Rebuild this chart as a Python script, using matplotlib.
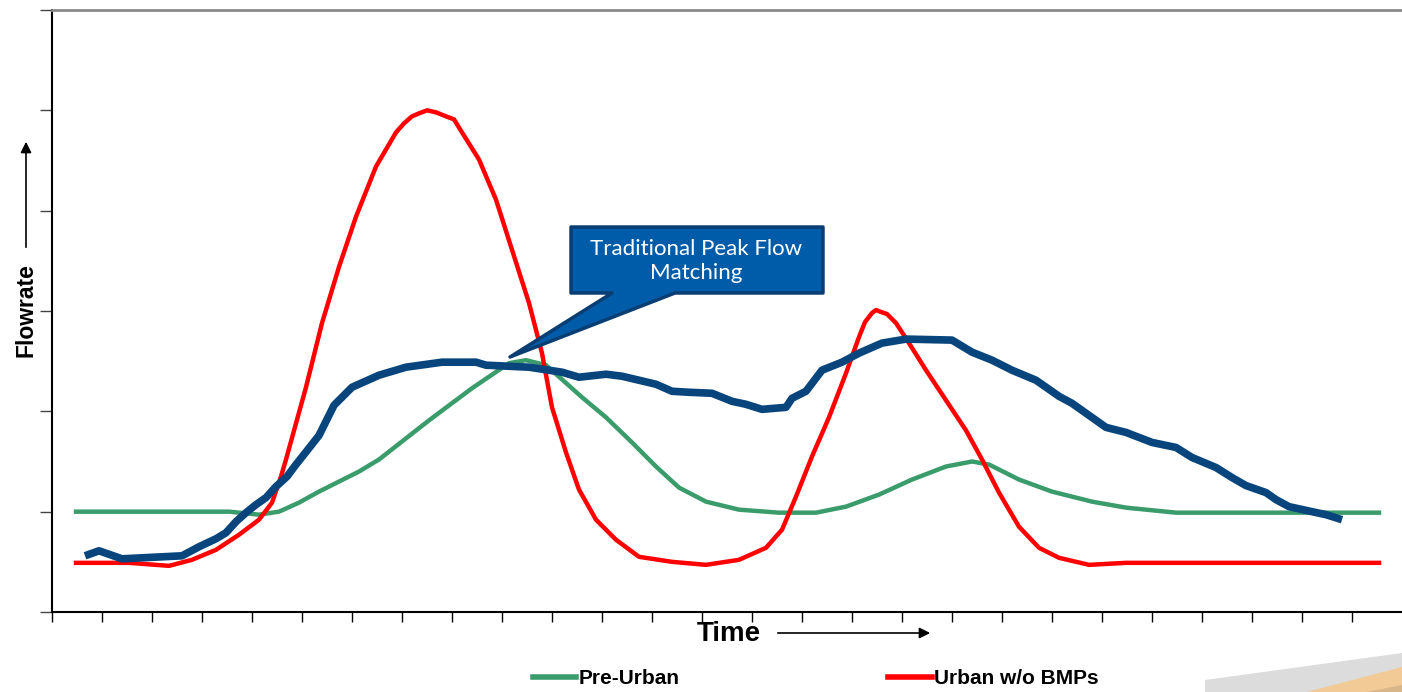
import numpy as np
import matplotlib as mpl
mpl.use('Agg')
import matplotlib.pyplot as plt
from matplotlib.patches import Polygon

# time axis: one unit per minor tick, flow axis: one unit per gridline tick
preUrbanT = [0.48, 3.54, 4.14, 4.54, 4.94, 5.34, 5.74, 6.14, 6.54, 7.54, 8.40, 9.14, 9.48, 9.88,
             10.60, 11.08, 11.60, 12.08, 12.54, 13.08, 13.74, 14.54, 15.28, 15.88, 16.54, 17.20,
             17.88, 18.40, 18.74, 19.34, 20.00, 20.80, 21.48, 22.48, 26.54]
preUrbanQ = [1.00, 1.00, 0.97, 1.00, 1.09, 1.20, 1.30, 1.40, 1.52, 1.91, 2.23, 2.48, 2.51, 2.46,
             2.14, 1.94, 1.69, 1.45, 1.24, 1.10, 1.02, 0.99, 0.99, 1.05, 1.17, 1.32,
             1.45, 1.50, 1.47, 1.32, 1.20, 1.10, 1.04, 0.99, 0.99]

urbanT = [0.48, 1.54, 2.34, 2.80, 3.28, 3.74, 4.14, 4.40, 4.58, 4.68,
          5.08, 5.40, 5.74, 6.08, 6.48, 6.88, 7.04, 7.20, 7.34, 7.50, 7.68, 7.88, 8.04, 8.20,
          8.54, 8.88, 9.20, 9.54, 9.80, 10.00, 10.28, 10.54, 10.88, 11.28,
          11.74, 12.40, 13.08, 13.74, 14.28, 14.60, 14.88, 15.20, 15.54, 15.88,
          16.14, 16.26, 16.40, 16.48, 16.58, 16.70, 16.88, 17.14, 17.48, 17.88, 18.28, 18.60, 18.94,
          19.34, 19.74, 20.14, 20.74, 21.48, 26.54]
urbanQ = [0.49, 0.49, 0.46, 0.52, 0.62, 0.77, 0.92, 1.09, 1.35, 1.52,
          2.24, 2.88, 3.44, 3.94, 4.44, 4.78, 4.87, 4.94, 4.97, 5.00, 4.98, 4.94, 4.91, 4.78,
          4.51, 4.11, 3.61, 3.08, 2.58, 2.04, 1.59, 1.22, 0.92, 0.72,
          0.55, 0.50, 0.47, 0.52, 0.64, 0.82, 1.15, 1.55, 1.94, 2.38,
          2.74, 2.89, 2.98, 3.01, 2.99, 2.97, 2.88, 2.68, 2.41, 2.11, 1.81, 1.52, 1.19,
          0.85, 0.64, 0.54, 0.47, 0.49, 0.49]

peakMatchT = [0.66, 0.94, 1.40, 2.60, 2.94, 3.28, 3.48, 3.68, 3.88, 4.08,
              4.28, 4.48, 4.70, 4.88, 5.04, 5.34, 5.64, 5.84, 6.00, 6.54,
              7.08, 7.80, 8.48, 8.68, 9.54, 10.20, 10.54, 11.08, 11.40, 11.74,
              12.08, 12.40, 12.74, 13.20, 13.60, 13.88, 14.20, 14.68, 14.80, 15.08,
              15.40, 15.80, 16.14, 16.60, 17.08, 18.00, 18.40, 18.80, 19.20, 19.68,
              20.14, 20.40, 20.74, 21.08, 21.48, 22.00, 22.48, 22.80, 23.28, 23.60,
              23.88, 24.28, 24.48, 24.74, 25.20, 25.48, 25.80]
peakMatchQ = [0.56, 0.61, 0.53, 0.56, 0.65, 0.73, 0.79, 0.90, 0.99, 1.07,
              1.14, 1.25, 1.35, 1.47, 1.57, 1.76, 2.06, 2.16, 2.24, 2.36,
              2.44, 2.49, 2.49, 2.46, 2.44, 2.39, 2.34, 2.37, 2.35, 2.31,
              2.27, 2.20, 2.19, 2.18, 2.10, 2.07, 2.02, 2.04, 2.13, 2.20,
              2.41, 2.49, 2.58, 2.68, 2.72, 2.71, 2.59, 2.51, 2.41, 2.31,
              2.15, 2.08, 1.96, 1.84, 1.79, 1.69, 1.64, 1.54, 1.44, 1.34,
              1.26, 1.19, 1.12, 1.05, 1.00, 0.97, 0.92]

W, H = 1402, 692

def px(x, y):
    # pixel position (from top-left) -> figure fraction
    return (x / W, 1 - y / H)

fig = plt.figure(figsize=(W / 100, H / 100), dpi=100)
ax = fig.add_axes([52 / W, 80 / H, 1350 / W, 602 / H])

ax.plot(preUrbanT, preUrbanQ, color='#3A9B6B', lw=3.2, solid_joinstyle='round', label='Pre-Urban')
ax.plot(urbanT, urbanQ, color='#FF0000', lw=3.2, solid_joinstyle='round', label='Urban w/o BMPs')
ax.plot(peakMatchT, peakMatchQ, color='#07457C', lw=5.5, solid_capstyle='butt', solid_joinstyle='round')

ax.set_xlim(0, 27)
ax.set_ylim(0, 6)
ax.set_xticks(np.arange(0, 27))
ax.set_yticks(np.arange(0, 7))
ax.set_xticklabels([])
ax.set_yticklabels([])
ax.tick_params(axis='x', direction='out', length=7, width=1, color='black')
ax.tick_params(axis='y', direction='out', length=9, width=1, color='#444444')
ax.spines['right'].set_visible(False)
ax.spines['top'].set_color('#8a8a8a')
ax.spines['top'].set_linewidth(2)
ax.spines['left'].set_linewidth(1.5)
ax.spines['bottom'].set_linewidth(1.5)

# callout box with pointer
callout = Polygon([px(571, 227), px(823, 227), px(823, 293), px(675, 293), px(510, 357),
                   px(612, 293), px(571, 293)], closed=True, transform=fig.transFigure,
                  facecolor='#005CA8', edgecolor='#0A3E72', lw=2.5, joinstyle='round')
fig.add_artist(callout)
fig.text(*px(696, 261), 'Traditional Peak Flow\nMatching', color='white', fontsize=16,
         family=['Lato', 'DejaVu Sans'], ha='center', va='center', linespacing=1.3)

# axis titles with arrows
lab = dict(family=['Liberation Sans', 'DejaVu Sans'], fontweight='bold')
fig.text(*px(26, 310), 'Flowrate', rotation=90, fontsize=16.5, ha='center', va='center', **lab)
fig.text(*px(729, 634), 'Time', fontsize=20, ha='center', va='center', **lab)
fig.add_artist(mpl.patches.FancyArrowPatch(px(26, 250), px(26, 139), transform=fig.transFigure,
                                           arrowstyle='-|>', mutation_scale=16, color='black', lw=1.2))
fig.add_artist(mpl.patches.FancyArrowPatch(px(775, 633), px(933, 633), transform=fig.transFigure,
                                           arrowstyle='-|>', mutation_scale=16, color='black', lw=1.2))

# legend (cut off at the bottom edge)
fig.add_artist(mpl.lines.Line2D([533 / W, 576 / W], [1 - 677 / H] * 2, color='#3A9B6B', lw=4))
fig.text(*px(579, 678), 'Pre-Urban', fontsize=15, ha='left', va='center', **lab)
fig.add_artist(mpl.lines.Line2D([888 / W, 932 / W], [1 - 677 / H] * 2, color='#FF0000', lw=4))
fig.text(*px(934, 678), 'Urban w/o BMPs', fontsize=15, ha='left', va='center', **lab)

# slide decoration in the corner
fig.add_artist(Polygon([px(1205, 680), px(1402, 653), px(1402, 692), px(1205, 692)],
                       transform=fig.transFigure, facecolor='#DCDCDC', edgecolor='none'))
fig.add_artist(Polygon([px(1307, 692), px(1402, 667), px(1402, 692)],
                       transform=fig.transFigure, facecolor='#F2CA95', edgecolor='none'))
fig.add_artist(Polygon([px(1367, 692), px(1402, 685), px(1402, 692)],
                       transform=fig.transFigure, facecolor='#D9B68A', edgecolor='none'))

fig.savefig('out.png', dpi=100)
